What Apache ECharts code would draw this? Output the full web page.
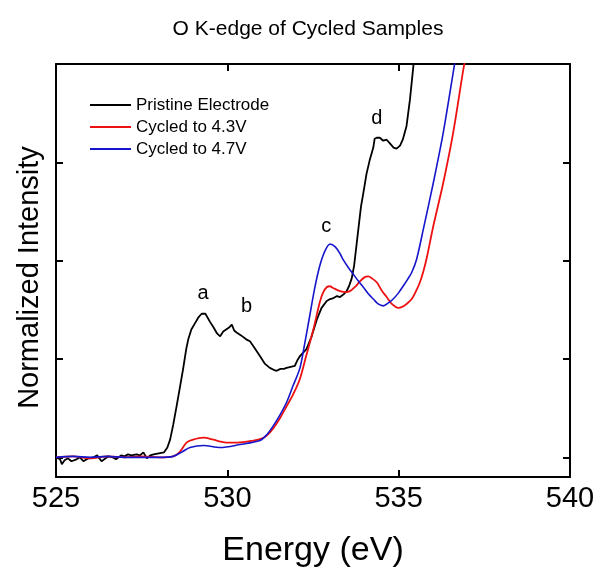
<!DOCTYPE html>
<html>
<head>
<meta charset="utf-8">
<script src="https://cdn.jsdelivr.net/npm/echarts@6/dist/echarts.min.js"></script>
<style>
  html, body { margin: 0; padding: 0; background: #fff; }
  #chart { width: 598px; height: 573px; }
</style>
</head>
<body>
<div id="chart"></div>
<script>
// O K-edge XAS spectra: [energy (eV), normalized intensity]
const pristine = [
  [525.0, 0.00], [525.12, -0.02], [525.17, -0.07], [525.25, -0.03], [525.35, -0.01],
  [525.45, -0.04], [525.6, -0.02], [525.7, 0.00], [525.8, -0.04], [525.95, -0.01],
  [526.1, 0.00], [526.2, 0.02], [526.33, -0.04], [526.45, -0.01], [526.53, 0.01],
  [526.65, 0.00], [526.75, -0.02], [526.9, 0.02], [527.0, 0.01], [527.1, 0.03],
  [527.2, 0.02], [527.35, 0.03], [527.45, 0.02], [527.55, 0.05], [527.65, -0.01],
  [527.75, 0.02], [527.85, 0.03], [528.0, 0.04], [528.15, 0.05], [528.25, 0.10],
  [528.33, 0.18], [528.42, 0.33], [528.52, 0.52], [528.62, 0.72], [528.71, 0.90],
  [528.8, 1.10], [528.86, 1.20], [528.95, 1.30], [529.05, 1.36], [529.15, 1.42],
  [529.25, 1.46], [529.3, 1.47], [529.36, 1.46], [529.4, 1.45], [529.49, 1.38],
  [529.6, 1.32], [529.7, 1.26], [529.79, 1.23], [529.88, 1.28], [529.93, 1.30],
  [530.05, 1.32], [530.13, 1.35], [530.2, 1.29], [530.27, 1.27], [530.4, 1.24],
  [530.55, 1.20], [530.66, 1.18], [530.8, 1.11], [530.95, 1.03], [531.1, 0.95],
  [531.24, 0.91], [531.35, 0.89], [531.44, 0.88], [531.55, 0.90], [531.65, 0.90],
  [531.73, 0.91], [531.85, 0.92], [531.97, 0.93], [532.05, 0.99], [532.12, 1.03],
  [532.2, 1.06], [532.31, 1.10], [532.45, 1.22], [532.61, 1.40], [532.75, 1.52],
  [532.9, 1.59], [533.0, 1.61], [533.1, 1.62], [533.2, 1.64], [533.29, 1.63],
  [533.4, 1.66], [533.48, 1.69], [533.55, 1.74], [533.63, 1.82], [533.7, 1.95],
  [533.8, 2.25], [533.9, 2.55], [533.97, 2.69], [534.06, 2.88], [534.16, 3.03],
  [534.26, 3.15], [534.3, 3.24], [534.36, 3.25], [534.45, 3.25], [534.55, 3.22],
  [534.65, 3.23], [534.75, 3.19], [534.85, 3.15], [534.94, 3.14], [535.04, 3.17],
  [535.12, 3.23], [535.23, 3.37], [535.33, 3.64], [535.43, 3.98], [535.55, 4.4]
];

const cycled43 = [
  [525.0, 0.00], [525.5, 0.01], [526.0, -0.01], [526.5, 0.01], [527.0, 0.00],
  [527.5, 0.01], [528.0, 0.00], [528.42, 0.01], [528.6, 0.05], [528.81, 0.15],
  [529.0, 0.18], [529.3, 0.20], [529.59, 0.18], [529.8, 0.16], [529.98, 0.15],
  [530.3, 0.15], [530.76, 0.17], [531.0, 0.19], [531.15, 0.22], [531.35, 0.30],
  [531.54, 0.40], [531.73, 0.52], [531.92, 0.64], [532.12, 0.80], [532.3, 1.03],
  [532.51, 1.30], [532.7, 1.58], [532.8, 1.68], [532.9, 1.73], [532.99, 1.74],
  [533.1, 1.72], [533.29, 1.69], [533.45, 1.68], [533.58, 1.69], [533.75, 1.74],
  [533.87, 1.79], [534.0, 1.83], [534.11, 1.84], [534.22, 1.82], [534.36, 1.78],
  [534.5, 1.70], [534.65, 1.63], [534.8, 1.56], [534.99, 1.52], [535.1, 1.53],
  [535.23, 1.56], [535.38, 1.61], [535.52, 1.70], [535.62, 1.78], [535.72, 1.89],
  [535.82, 2.03], [536.01, 2.35], [536.3, 2.79], [536.59, 3.30], [536.89, 3.95],
  [537.0, 4.15]
];

const cycled47 = [
  [525.0, 0.00], [525.5, 0.01], [526.0, 0.00], [526.5, 0.01], [527.0, 0.00],
  [527.5, 0.00], [528.0, 0.00], [528.42, 0.01], [528.7, 0.06], [528.91, 0.10],
  [529.3, 0.12], [529.79, 0.10], [530.37, 0.13], [530.95, 0.17], [531.15, 0.23],
  [531.34, 0.32], [531.55, 0.44], [531.73, 0.56], [531.92, 0.73], [532.12, 0.91],
  [532.27, 1.18], [532.41, 1.45], [532.55, 1.72], [532.7, 1.95], [532.85, 2.10],
  [533.0, 2.17], [533.15, 2.14], [533.29, 2.07], [533.38, 2.01], [533.53, 1.93],
  [533.68, 1.86], [533.83, 1.79], [533.97, 1.73], [534.12, 1.66], [534.26, 1.61],
  [534.4, 1.56], [534.55, 1.54], [534.7, 1.57], [534.84, 1.61], [534.99, 1.67],
  [535.13, 1.74], [535.26, 1.81], [535.38, 1.88], [535.52, 2.01], [535.72, 2.32],
  [536.01, 2.79], [536.3, 3.30], [536.59, 3.91], [536.7, 4.15]
];

// Peak annotations: [energy, intensity, letter]
const peakLabels = [
  [529.29, 1.67, 'a'],
  [530.56, 1.53, 'b'],
  [532.89, 2.35, 'c'],
  [534.36, 3.45, 'd']
];

const seriesNames = ['Pristine Electrode', 'Cycled to 4.3V', 'Cycled to 4.7V'];
const xTickValues = [525, 530, 535, 540];
const yTickValues = [0, 1, 2, 3];

const FONT = 'Liberation Sans, Arial, sans-serif';
const chart = echarts.init(document.getElementById('chart'), null, { renderer: 'canvas' });

const frame = { show: true, onZero: false, lineStyle: { color: '#000', width: 2 } };
const tickIn = { show: true, inside: true, length: 7, lineStyle: { color: '#000', width: 2 } };

chart.setOption({
  animation: false,
  backgroundColor: '#fff',
  graphic: [{
    type: 'text',
    x: 308, y: 29,
    style: {
      text: 'O K-edge of Cycled Samples',
      font: '21px ' + FONT,
      fill: '#000',
      align: 'center',
      verticalAlign: 'middle'
    }
  }],
  grid: { left: 56, right: 28, top: 64, bottom: 95 },
  legend: {
    data: seriesNames,
    orient: 'vertical',
    left: 90, top: 94, padding: 0,
    icon: 'rect',
    itemWidth: 41, itemHeight: 2, itemGap: 0,
    textStyle: { fontFamily: FONT, fontSize: 17, color: '#000', lineHeight: 22 }
  },
  xAxis: [{
    type: 'value', min: 525, max: 540, interval: 5,
    axisLine: frame,
    axisTick: Object.assign({}, tickIn, { customValues: xTickValues }),
    axisLabel: { show: true, customValues: xTickValues, fontFamily: FONT, fontSize: 29, color: '#000', margin: 7 },
    splitLine: { show: false },
    name: 'Energy (eV)', nameLocation: 'middle', nameGap: 57,
    nameTextStyle: { fontFamily: FONT, fontSize: 34, color: '#000' }
  }, {
    type: 'value', position: 'top', min: 525, max: 540, interval: 5,
    axisLine: frame,
    axisTick: Object.assign({}, tickIn, { customValues: xTickValues }),
    axisLabel: { show: false },
    splitLine: { show: false }
  }],
  yAxis: [{
    type: 'value', min: -0.2, max: 4,
    axisLine: frame,
    axisTick: Object.assign({}, tickIn, { customValues: yTickValues }),
    axisLabel: { show: false },
    splitLine: { show: false },
    name: 'Normalized Intensity', nameLocation: 'middle', nameGap: 12,
    nameTextStyle: { fontFamily: FONT, fontSize: 29, color: '#000', padding: [0, 14, 0, 0] }
  }, {
    type: 'value', position: 'right', min: -0.2, max: 4,
    axisLine: frame,
    axisTick: Object.assign({}, tickIn, { customValues: yTickValues }),
    axisLabel: { show: false },
    splitLine: { show: false }
  }],
  series: [{
    name: seriesNames[0], type: 'line', data: pristine, showSymbol: false, symbol: 'none',
    lineStyle: { color: '#000', width: 1.8 }, itemStyle: { color: '#000' }, clip: true
  }, {
    name: seriesNames[1], type: 'line', data: cycled43, showSymbol: false, symbol: 'none', smooth: 0.3,
    lineStyle: { color: '#ee1111', width: 1.8 }, itemStyle: { color: '#ee1111' }, clip: true
  }, {
    name: seriesNames[2], type: 'line', data: cycled47, showSymbol: false, symbol: 'none', smooth: 0.3,
    lineStyle: { color: '#1515cc', width: 1.6 }, itemStyle: { color: '#1515cc' }, clip: true
  }, {
    type: 'scatter', symbolSize: 0, silent: true,
    itemStyle: { opacity: 1 },
    data: peakLabels.map(p => ({ value: [p[0], p[1]], name: p[2] })),
    label: {
      show: true, position: 'inside', formatter: '{b}', opacity: 1,
      fontFamily: FONT, fontSize: 20, color: '#000', textBorderWidth: 0
    }
  }]
});
</script>
</body>
</html>
